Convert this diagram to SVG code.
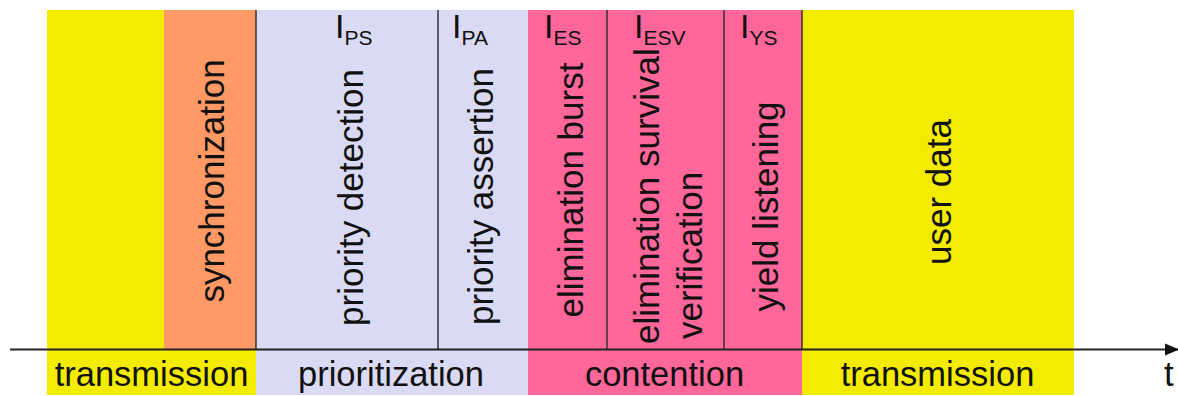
<svg xmlns="http://www.w3.org/2000/svg" width="1178" height="396" viewBox="0 0 1178 396">
<defs>
<style>
text{font-family:"Liberation Sans",Arial,sans-serif;fill:#111}
.v{font-size:35px}
.b{font-size:34.5px;text-anchor:middle}
.i{font-size:34px}
.s{font-size:21px}
.sep{stroke:#333;stroke-width:1.5}
.ye{fill:#F4EC00}.or{fill:#FF9966}.la{fill:#DADAF4}.pk{fill:#FF6699}
</style>
<marker id="ah" viewBox="0 0 14 14" refX="13" refY="7" markerWidth="14" markerHeight="14" markerUnits="userSpaceOnUse" orient="auto">
<path d="M0,1 L14,7 L0,13 Z" fill="#111"/>
</marker>
</defs>
<rect width="1178" height="396" fill="#fff"/>
<g id="transmission-1">
<rect class="ye" x="47" y="10" width="209" height="385"/>
<text class="b" x="151.5" y="386">transmission</text>
</g>
<g id="synchronization">
<rect class="or" x="164" y="10" width="92" height="339.5"/>
<text class="v" transform="translate(224,181) rotate(-90)" text-anchor="middle">synchronization</text>
</g>
<g id="prioritization">
<rect class="la" x="256" y="10" width="272" height="385"/>
<text class="b" x="391" y="386">prioritization</text>
</g>
<g id="priority-detection">
<text class="i" x="335" y="38">I<tspan class="s" dy="7">PS</tspan></text>
<text class="v" transform="translate(363,197.5) rotate(-90)" text-anchor="middle">priority detection</text>
</g>
<g id="priority-assertion">
<text class="i" x="452" y="38">I<tspan class="s" dy="7">PA</tspan></text>
<text class="v" transform="translate(493,196.5) rotate(-90)" text-anchor="middle">priority assertion</text>
</g>
<g id="contention">
<rect class="pk" x="528" y="10" width="274" height="385"/>
<text class="b" x="664.5" y="386">contention</text>
</g>
<g id="elimination-burst">
<text class="i" x="544" y="38">I<tspan class="s" dy="7">ES</tspan></text>
<text class="v" transform="translate(583,190) rotate(-90)" text-anchor="middle">elimination burst</text>
</g>
<g id="elimination-survival-verification">
<text class="i" x="634" y="38">I<tspan class="s" dy="7">ESV</tspan></text>
<text class="v" transform="translate(659,344) rotate(-90)">elimination survival</text>
<text class="v" transform="translate(702,339) rotate(-90)">verification</text>
</g>
<g id="yield-listening">
<text class="i" x="740" y="38">I<tspan class="s" dy="7">YS</tspan></text>
<text class="v" transform="translate(778,206.5) rotate(-90)" text-anchor="middle">yield listening</text>
</g>
<g id="transmission-2">
<rect class="ye" x="802" y="10" width="272" height="385"/>
<text class="v" transform="translate(951,192) rotate(-90)" text-anchor="middle">user data</text>
<text class="b" x="937.5" y="386">transmission</text>
</g>
<g id="connectors">
<line class="sep" x1="256" y1="10" x2="256" y2="349.5"/>
<line class="sep" x1="438" y1="10" x2="438" y2="349.5"/>
<line class="sep" x1="607" y1="10" x2="607" y2="349.5"/>
<line class="sep" x1="724" y1="10" x2="724" y2="349.5"/>
<line class="sep" x1="802" y1="10" x2="802" y2="349.5"/>
<line x1="10" y1="349.5" x2="1178" y2="349.5" stroke="#222" stroke-width="2" marker-end="url(#ah)"/>
<text class="v" x="1164" y="386">t</text>
</g>
</svg>
